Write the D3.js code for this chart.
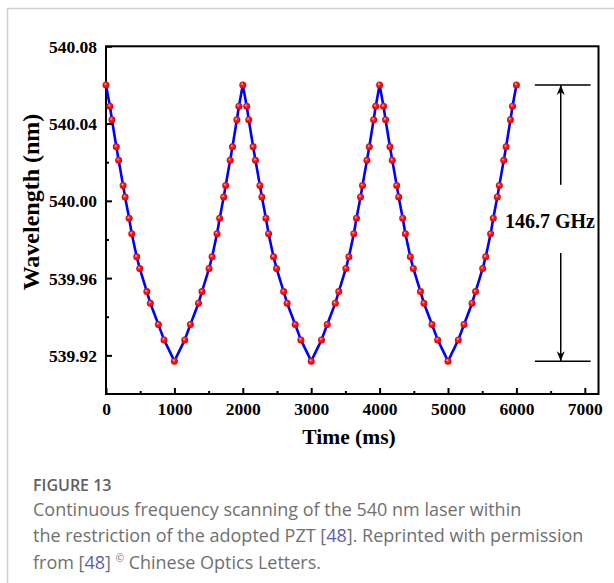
<!DOCTYPE html>
<html>
<head>
<meta charset="utf-8">
<script src="https://cdn.jsdelivr.net/npm/d3@7"></script>
<style>
  html, body { margin: 0; padding: 0; background: #ffffff; }
  svg { display: block; }
</style>
</head>
<body>
<div id="chart"></div>
<script>
// ---- Data ----
const timeMs = [
  0, 57, 87, 151, 185, 250, 279, 338, 377, 449, 493, 597, 648, 766, 849, 1000,
  1151, 1234, 1352, 1403, 1507, 1551, 1623, 1662, 1721, 1750, 1815, 1849, 1913, 1943, 2000,
  2057, 2087, 2151, 2185, 2250, 2279, 2338, 2377, 2449, 2493, 2597, 2648, 2766, 2849, 3000,
  3151, 3234, 3352, 3403, 3507, 3551, 3623, 3662, 3721, 3750, 3815, 3849, 3913, 3943, 4000,
  4057, 4087, 4151, 4185, 4250, 4279, 4338, 4377, 4449, 4493, 4597, 4648, 4766, 4849, 5000,
  5151, 5234, 5352, 5403, 5507, 5551, 5623, 5662, 5721, 5750, 5815, 5849, 5913, 5943, 6000
];
const wavelengthNm = [
  540.060, 540.049, 540.042, 540.028, 540.021, 540.008, 540.002, 539.991, 539.983, 539.971, 539.965, 539.953, 539.947, 539.936, 539.928, 539.917,
  539.928, 539.936, 539.947, 539.953, 539.965, 539.971, 539.983, 539.991, 540.002, 540.008, 540.021, 540.028, 540.042, 540.049, 540.060,
  540.049, 540.042, 540.028, 540.021, 540.008, 540.002, 539.991, 539.983, 539.971, 539.965, 539.953, 539.947, 539.936, 539.928, 539.917,
  539.928, 539.936, 539.947, 539.953, 539.965, 539.971, 539.983, 539.991, 540.002, 540.008, 540.021, 540.028, 540.042, 540.049, 540.060,
  540.049, 540.042, 540.028, 540.021, 540.008, 540.002, 539.991, 539.983, 539.971, 539.965, 539.953, 539.947, 539.936, 539.928, 539.917,
  539.928, 539.936, 539.947, 539.953, 539.965, 539.971, 539.983, 539.991, 540.002, 540.008, 540.021, 540.028, 540.042, 540.049, 540.060
];
const xTickValues = [0, 1000, 2000, 3000, 4000, 5000, 6000, 7000];
const xMinorTicks = [500, 1500, 2500, 3500, 4500, 5500, 6500];
const yTickValues = [539.92, 539.96, 540.00, 540.04, 540.08];
const yMinorTicks = [539.94, 539.98, 540.02, 540.06];
const spanMax = 540.060;
const spanMin = 539.917;
const spanLabel = "146.7 GHz";
const xTitle = "Time (ms)";
const yTitle = "Wavelength (nm)";

const W = 614, H = 583;
const plot = { left: 106, right: 598.5, top: 46.3, bottom: 394 };

const svg = d3.select("#chart").append("svg")
  .attr("width", W).attr("height", H)
  .attr("font-family", "'Liberation Serif', 'Times New Roman', serif");

// card border
svg.append("path")
  .attr("d", `M7.5,${H} L7.5,8.5 L${W},8.5`)
  .attr("fill", "none").attr("stroke", "#cfcfcf").attr("stroke-width", 1.5);

const x = d3.scaleLinear().domain([0, 7200]).range([plot.left, plot.right]);
const y = d3.scaleLinear().domain([539.90, 540.08]).range([plot.bottom, plot.top]);

const defs = svg.append("defs");
const grad = defs.append("radialGradient").attr("id", "ball")
  .attr("cx", "50%").attr("cy", "50%").attr("r", "55%")
  .attr("fx", "38%").attr("fy", "35%");
grad.append("stop").attr("offset", "0%").attr("stop-color", "#ffe0e0");
grad.append("stop").attr("offset", "35%").attr("stop-color", "#ff2020");
grad.append("stop").attr("offset", "100%").attr("stop-color", "#d00000");

const mk = defs.append("marker").attr("id", "arr")
  .attr("viewBox", "0 0 10 10").attr("refX", 10).attr("refY", 5)
  .attr("markerWidth", 10).attr("markerHeight", 10)
  .attr("markerUnits", "userSpaceOnUse").attr("orient", "auto");
mk.append("path").attr("d", "M0,1 L10,5 L0,9 L3,5 Z").attr("fill", "#000");

// axes frame
const g = svg.append("g");
g.append("rect")
  .attr("x", plot.left).attr("y", plot.top)
  .attr("width", plot.right - plot.left).attr("height", plot.bottom - plot.top)
  .attr("fill", "none").attr("stroke", "#000").attr("stroke-width", 2);

// x axis
const xAxis = d3.axisBottom(x).tickValues(xTickValues).tickSize(-6).tickPadding(9)
  .tickFormat(d3.format("d"));
const xg = g.append("g").attr("transform", `translate(0,${plot.bottom})`).call(xAxis);
const xAxisMinor = d3.axisBottom(x).tickValues(xMinorTicks).tickSize(-3).tickFormat("");
const xgm = g.append("g").attr("transform", `translate(0,${plot.bottom})`).call(xAxisMinor);

// y axis
const yAxis = d3.axisLeft(y).tickValues(yTickValues).tickSize(-6).tickPadding(9)
  .tickFormat(d3.format(".2f"));
const yg = g.append("g").attr("transform", `translate(${plot.left},0)`).call(yAxis);
const yAxisMinor = d3.axisLeft(y).tickValues(yMinorTicks).tickSize(-3).tickFormat("");
const ygm = g.append("g").attr("transform", `translate(${plot.left},0)`).call(yAxisMinor);

[xg, xgm, yg, ygm].forEach(a => {
  a.select(".domain").remove();
  a.selectAll(".tick line").attr("stroke", "#000").attr("stroke-width", 2);
  a.selectAll("text").attr("font-family", "'Liberation Serif', serif")
    .attr("font-weight", "bold").attr("font-size", 17.5).attr("fill", "#000");
});
yg.selectAll("text").attr("dy", "0.35em");

// axis titles
svg.append("text")
  .attr("x", 349).attr("y", 444)
  .attr("text-anchor", "middle").attr("font-weight", "bold").attr("font-size", 21.5)
  .text(xTitle);
svg.append("text")
  .attr("transform", `translate(39,202) rotate(-90)`)
  .attr("text-anchor", "middle").attr("font-weight", "bold").attr("font-size", 24)
  .text(yTitle);

// data
const pts = timeMs.map((t, i) => ({ t, v: wavelengthNm[i] }));
const line = d3.line().x(d => x(d.t)).y(d => y(d.v));
g.append("path").datum(pts).attr("d", line)
  .attr("fill", "none").attr("stroke", "#0000ff").attr("stroke-width", 2.6)
  .attr("stroke-linejoin", "round");
g.selectAll("circle.pt").data(pts).join("circle")
  .attr("class", "pt")
  .attr("cx", d => x(d.t)).attr("cy", d => y(d.v)).attr("r", 3.5)
  .attr("fill", "url(#ball)");

// span annotation
const ann = svg.append("g").attr("stroke", "#000").attr("stroke-width", 1.5);
const hx0 = x(6270), hx1 = x(7085), ax = x(6648);
ann.append("line").attr("x1", hx0).attr("x2", hx1).attr("y1", y(spanMax)).attr("y2", y(spanMax));
ann.append("line").attr("x1", hx0).attr("x2", hx1).attr("y1", y(spanMin)).attr("y2", y(spanMin));
ann.append("line").attr("x1", ax).attr("x2", ax).attr("y1", y(540.0083)).attr("y2", y(spanMax))
  .attr("marker-end", "url(#arr)");
ann.append("line").attr("x1", ax).attr("x2", ax).attr("y1", y(539.973)).attr("y2", y(spanMin))
  .attr("marker-end", "url(#arr)");
svg.append("text")
  .attr("x", x(6490)).attr("y", y(539.9897)).attr("dy", "0.35em")
  .attr("text-anchor", "middle").attr("font-weight", "bold").attr("font-size", 20)
  .text(spanLabel);

// caption
const cap = svg.append("g").attr("font-family", "'Open Sans', 'Noto Sans', sans-serif").attr("fill", "#707070");
cap.append("text").attr("x", 33).attr("y", 491).attr("font-size", 16).attr("font-weight", 600)
  .attr("fill", "#606060").text("FIGURE 13");
cap.append("text").attr("x", 33).attr("y", 516).attr("font-size", 18)
  .text("Continuous frequency scanning of the 540 nm laser within");
const l2 = cap.append("text").attr("x", 33).attr("y", 542).attr("font-size", 18);
l2.append("tspan").text("the restriction of the adopted PZT [");
l2.append("tspan").attr("fill", "#5b5db3").text("48");
l2.append("tspan").text("]. Reprinted with permission");
const l3 = cap.append("text").attr("x", 33).attr("y", 569).attr("font-size", 18);
l3.append("tspan").text("from [");
l3.append("tspan").attr("fill", "#5b5db3").text("48");
l3.append("tspan").text("] ");
l3.append("tspan").attr("font-size", 10).attr("dy", -7).text("©");
l3.append("tspan").attr("dy", 7).text(" Chinese Optics Letters.");
</script>
</body>
</html>
